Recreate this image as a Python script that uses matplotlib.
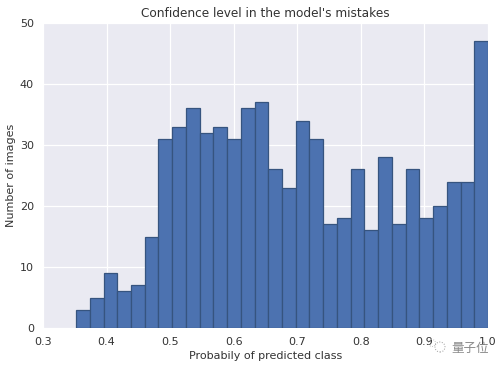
import numpy as np
import matplotlib
matplotlib.use("Agg")
import matplotlib.pyplot as plt
from matplotlib.patches import Circle

counts = [3, 5, 9, 6, 7, 15, 31, 33, 36, 32, 33, 31, 36, 37, 26,
          23, 34, 31, 17, 18, 26, 16, 28, 17, 26, 18, 20, 24, 24, 47]
bin_start = 0.352
bin_end = 1.0
title = "Confidence level in the model's mistakes"
xlabel = "Probabily of predicted class"
ylabel = "Number of images"
watermark = "量子位"

W, H = 503, 368
fig = plt.figure(figsize=(W / 100, H / 100), dpi=100, facecolor="white")
ax = fig.add_axes([43 / W, 1 - 328 / H, 445 / W, 305 / H], facecolor="#EAEAF2")

edges = np.linspace(bin_start, bin_end, len(counts) + 1)
ax.bar(edges[:-1], counts, width=np.diff(edges), align="edge",
       color="#4C72B0", edgecolor="#36547F", linewidth=0.9, zorder=3)

ax.set_xlim(0.3, 1.0)
ax.set_ylim(0, 50)
ax.set_xticks(np.arange(0.3, 1.01, 0.1))
ax.set_yticks(np.arange(0, 51, 10))
ax.grid(True, color="white", linewidth=0.9, zorder=1)
ax.set_axisbelow(True)
for s in ax.spines.values():
    s.set_visible(False)
ax.tick_params(length=0, labelsize=8.0, colors="#333333", pad=6.5)
ax.tick_params(axis="y", pad=6.5)
ax.set_title(title, fontsize=8.7, color="#333333", pad=4)
ax.set_xlabel(xlabel, fontsize=8.0, color="#333333", labelpad=3)
ax.set_ylabel(ylabel, fontsize=8.0, color="#333333", labelpad=2.5)

fig.text(470 / W, 1 - 348 / H, watermark, family=["Noto Sans CJK SC", "DejaVu Sans"],
         fontsize=9, color="#8A8A8A", ha="center", va="center", zorder=5)
fig.add_artist(Circle((440, H - 347), 5, transform=None, fill=False,
                      edgecolor="#9A9A9A", linewidth=0.7, linestyle=":"))
fig.add_artist(Circle((432, H - 343), 3.5, transform=None, fill=False,
                      edgecolor="#B0B0B0", linewidth=0.6, linestyle=":"))
fig.savefig("out.png", dpi=100)
